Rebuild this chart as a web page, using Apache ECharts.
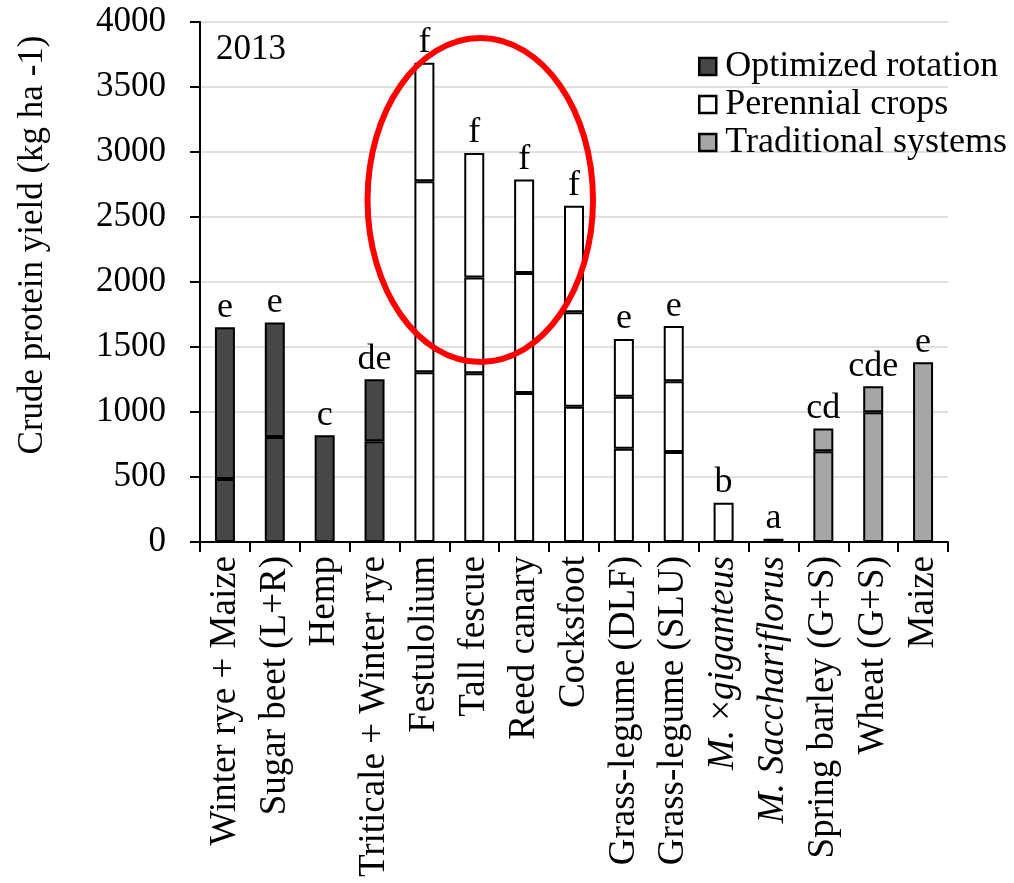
<!DOCTYPE html>
<html>
<head>
<meta charset="utf-8">
<script src="https://cdn.jsdelivr.net/npm/echarts@6/dist/echarts.min.js"></script>
<style>
  html, body { margin: 0; padding: 0; background: #fff; }
  #chart { width: 1014px; height: 883px; }
</style>
</head>
<body>
<div id="chart"></div>
<script>
// Crop systems, crude protein yield 2013 (kg ha-1)
const categories = [
  'Winter rye + Maize', 'Sugar beet (L+R)', 'Hemp', 'Triticale + Winter rye',
  'Festulolium', 'Tall fescue', 'Reed canary', 'Cocksfoot',
  'Grass-legume (DLF)', 'Grass-legume (SLU)', 'M. ×giganteus', 'M. Sacchariflorus',
  'Spring barley (G+S)', 'Wheat (G+S)', 'Maize'
];
const groupNames = ['Optimized rotation', 'Perennial crops', 'Traditional systems'];
const groupOf = [0, 0, 0, 0, 1, 1, 1, 1, 1, 1, 1, 1, 2, 2, 2];

// Cumulative yield after each harvest (top of each stacked segment)
const harvest1 = [485, 808, 821, 775, 1305, 1298, 1146, 1040, 718, 692, 302, 25, 698, 998, 1383];
const harvest2 = [1652, 1688, null, 1252, 2775, 2034, 2069, 1768, 1117, 1236, null, null, 873, 1198, null];
const harvest3 = [null, null, null, null, 3687, 2993, 2789, 2587, 1562, 1661, null, null, null, null, null];

// Significance letters above each bar
const letters = ['e', 'e', 'c', 'de', 'f', 'f', 'f', 'f', 'e', 'e', 'b', 'a', 'cd', 'cde', 'e'];

const yTicks = { min: 0, max: 4000, interval: 500 };

const groupColors = ['#474747', '#ffffff', '#a6a6a6'];
const FONT = '"Liberation Serif", "Times New Roman", serif';

// Turn cumulative readings into segment heights
const cumulative = [harvest1, harvest2, harvest3];
const segments = cumulative.map((arr, k) => arr.map((v, i) => {
  if (v == null) return null;
  const below = k === 0 ? 0 : cumulative[k - 1][i];
  return v - below;
}));
const topLayer = categories.map((_, i) => {
  let t = 0;
  for (let k = 0; k < 3; k++) if (segments[k][i] != null) t = k;
  return t;
});

const series = [];
groupNames.forEach((name, g) => {
  for (let k = 0; k < 3; k++) {
    series.push({
      name: name,
      type: 'bar',
      stack: 'total',
      barWidth: 20,
      itemStyle: { color: groupColors[g], borderColor: '#000', borderWidth: 2 },
      data: categories.map((_, i) => {
        if (groupOf[i] !== g || segments[k][i] == null) return '-';
        const item = { value: segments[k][i] };
        if (topLayer[i] === k) {
          item.label = {
            show: true, position: 'top', distance: 2,
            formatter: letters[i],
            fontFamily: FONT, fontSize: 36, color: '#000'
          };
        }
        return item;
      })
    });
  }
});

const chart = echarts.init(document.getElementById('chart'), null, { renderer: 'canvas' });

const baseGraphics = [
  {
    id: 'year', type: 'text', left: 216, top: 32,
    style: { text: '2013', font: '35px ' + FONT, fill: '#000' }
  },
  {
    id: 'ytitle', type: 'text', x: 33, y: 245, rotation: Math.PI / 2,
    style: {
      text: 'Crude protein yield (kg ha -1)', font: '35px ' + FONT, fill: '#000',
      align: 'center', verticalAlign: 'middle'
    }
  }
];

chart.setOption({
  animation: false,
  backgroundColor: '#fff',
  grid: { left: 200, right: 66, top: 22, bottom: 341, containLabel: false },
  legend: {
    data: groupNames,
    orient: 'vertical',
    left: 693,
    top: 43,
    icon: 'rect',
    itemWidth: 17,
    itemHeight: 17,
    itemGap: 1,
    selectedMode: false,
    itemStyle: { borderColor: '#000', borderWidth: 2.5 },
    textStyle: { fontFamily: FONT, fontSize: 36, color: '#000', lineHeight: 37, padding: [0, 0, 0, 4] }
  },
  xAxis: {
    type: 'category',
    data: categories,
    axisLine: { show: true, lineStyle: { color: '#000', width: 2 } },
    axisTick: { show: true, length: 10, interval: 0, lineStyle: { color: '#000', width: 2 } },
    axisLabel: {
      interval: 0, rotate: 90, margin: 14,
      fontFamily: FONT, fontSize: 37, color: '#000',
      formatter: (v) => {
        if (v === 'M. ×giganteus') return '{i|M.} ×{i|giganteus}';
        if (v === 'M. Sacchariflorus') return '{i|M. Sacchariflorus}';
        return v;
      },
      rich: { i: { fontStyle: 'italic', fontFamily: FONT, fontSize: 37, color: '#000' } }
    },
    splitLine: { show: false }
  },
  yAxis: {
    type: 'value',
    min: yTicks.min, max: yTicks.max, interval: yTicks.interval,
    axisLine: { show: true, lineStyle: { color: '#000', width: 2 } },
    axisTick: { show: true, length: 10, lineStyle: { color: '#000', width: 2 } },
    axisLabel: {
      margin: 34, fontFamily: FONT, fontSize: 35, color: '#000',
      formatter: (v) => String(v)
    },
    splitLine: { show: true, lineStyle: { color: '#e0e0e0', width: 2 } }
  },
  series: series,
  graphic: baseGraphics
});

// Red ring highlighting the perennial grasses, placed through the axes
const ring = { from: 'Triticale + Winter rye', to: 'Cocksfoot', low: 1385, high: 3877, pad: 13 };
const xa = chart.convertToPixel({ xAxisIndex: 0 }, ring.from);
const xb = chart.convertToPixel({ xAxisIndex: 0 }, ring.to);
const yLow = chart.convertToPixel({ yAxisIndex: 0 }, ring.low);
const yHigh = chart.convertToPixel({ yAxisIndex: 0 }, ring.high);
chart.setOption({
  graphic: baseGraphics.concat([
    {
      id: 'ring', type: 'ellipse', z: 100,
      shape: { cx: (xa + xb) / 2 + 6, cy: (yLow + yHigh) / 2, rx: (xb - xa) / 2 + ring.pad, ry: (yLow - yHigh) / 2 },
      style: { fill: 'none', stroke: '#ff0000', lineWidth: 6 }
    }
  ])
});
</script>
</body>
</html>
